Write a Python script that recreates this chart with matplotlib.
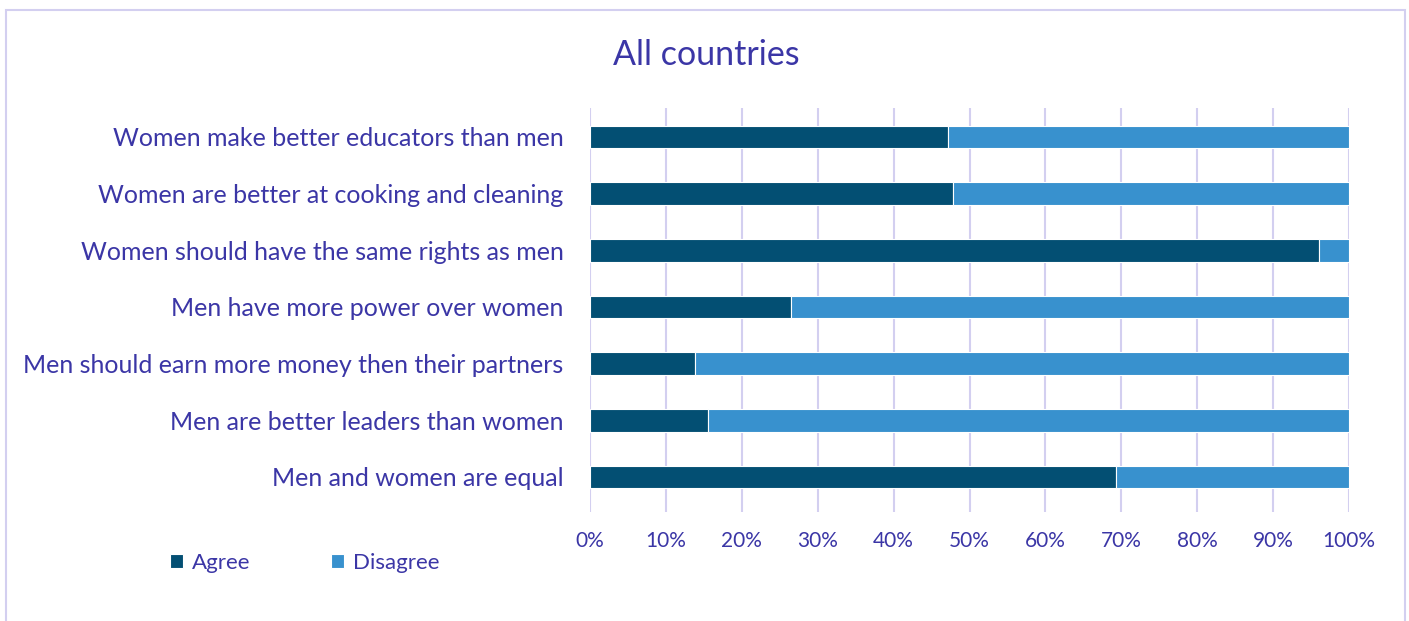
import matplotlib.pyplot as plt
from matplotlib.patches import Rectangle
from matplotlib.ticker import PercentFormatter

# survey statements, bottom to top as drawn
statements = [
    "Men and women are equal",
    "Men are better leaders than women",
    "Men should earn more money then their partners",
    "Men have more power over women",
    "Women should have the same rights as men",
    "Women are better at cooking and cleaning",
    "Women make better educators than men",
]
agree = [69.3, 15.5, 13.8, 26.5, 96.1, 47.8, 47.2]
disagree = [100 - a for a in agree]

text_col = "#3B36A6"
dark = "#034F73"
light = "#3891CE"
grid_col = "#D3CFF0"

plt.rcParams['font.family'] = ['Lato', 'DejaVu Sans']

fig = plt.figure(figsize=(14.09, 6.21), dpi=100)
ax = fig.add_axes([590 / 1409, 1 - 512 / 621, 759 / 1409, 404 / 621])

y = list(range(len(statements)))
ax.barh(y, agree, height=0.4, color=dark, edgecolor="white", linewidth=0.8, label="Agree", zorder=3)
ax.barh(y, disagree, left=agree, height=0.4, color=light, edgecolor="white", linewidth=0.8, label="Disagree", zorder=3)

ax.set_xlim(0, 100)
ax.set_ylim(-0.62, 6.51)
ax.set_xticks(range(0, 101, 10))
ax.xaxis.set_major_formatter(PercentFormatter(decimals=0))
ax.set_yticks(y)
ax.set_yticklabels(statements)
ax.tick_params(axis="y", length=0, pad=19, labelsize=18, labelcolor=text_col)
ax.tick_params(axis="x", length=0, pad=14, labelsize=15, labelcolor=text_col)
ax.grid(axis="x", color=grid_col, linewidth=1.5, zorder=0)
for s in ax.spines.values():
    s.set_visible(False)

fig.text(706 / 1409, 1 - 55 / 621, "All countries", ha="center", va="center",
         fontsize=24.5, color=text_col)

fig.legend(loc="center left", bbox_to_anchor=(150 / 1409, 1 - 563 / 621), ncol=2,
           frameon=False, fontsize=16, labelcolor=text_col, handlelength=0.6,
           handleheight=0.6, handletextpad=0.4, columnspacing=3.6)

fig.patches.append(Rectangle((6 / 1409, -0.05), 1399 / 1409, 1.05 - 10 / 621,
                             transform=fig.transFigure, fill=False,
                             edgecolor=grid_col, linewidth=1.5))

fig.savefig("out.png", dpi=100, facecolor="white")
